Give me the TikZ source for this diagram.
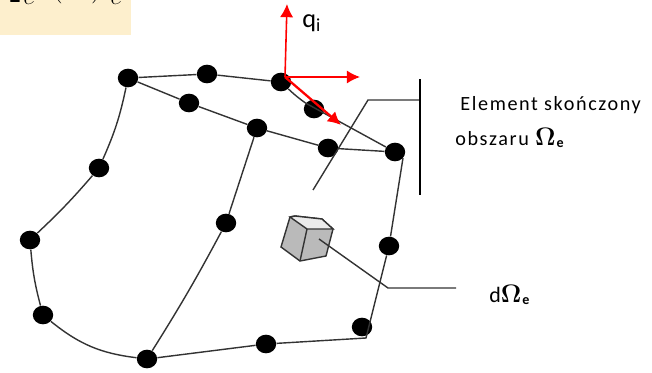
\documentclass[tikz,border=0pt]{standalone}
\usepackage{amsmath, amssymb}
\usepackage{fontspec}
\setmainfont{Carlito}
\newfontfamily\rozstrzelony[LetterSpace=8]{Carlito}
\usetikzlibrary{arrows.meta,shapes.geometric}
\definecolor{tlo}{RGB}{253,239,205}
\newcommand{\omegaE}{{\fontsize{14}{14}\selectfont$\boldsymbol{\Omega}$\kern0.5pt\raisebox{-1.5pt}{\fontsize{8}{8}\bfseries e}}}
\tikzset{
	wezel/.style={ellipse,fill=black,inner sep=0pt,minimum width=11.6pt,minimum height=10.6pt},
	krawedz/.style={line width=0.8pt,black!80},
	wektor/.style={red,line width=0.9pt,-{Latex[length=7.5pt,width=7.5pt]}},
	opis/.style={inner sep=0pt,anchor=base west,font=\fontsize{11.5}{13}\rozstrzelony},
	wzorek/.style={inner sep=0pt,anchor=base,font=\fontsize{14}{16}\selectfont},
}
\begin{document}
\begin{tikzpicture}[x=0.02cm,y=-0.02cm]
	\useasboundingbox (0,0) rectangle (652,372);
	\fill[tlo] (0,0) rectangle (131,35);
	% wzor uciety
	\node[wzorek,font=\fontsize{8}{9}\selectfont] (w1) at (15,3) {$\blacksquare$};
	\node[wzorek] (w2) at (29,5) {$e$};
	\node[wzorek] (w3) at (58,-3) {$($};
	\node[wzorek] (w4) at (96,-3) {$)$};
	\node[wzorek] (w5) at (116,5) {$e$};
	% wezly
	\node[wezel] (A) at (128,78) {};
	\node[wezel] (B) at (207,74) {};
	\node[wezel] (C) at (281,82) {};
	\node[wezel] (D) at (314,109) {};
	\node[wezel] (E) at (395,152) {};
	\node[wezel] (F) at (189,103) {};
	\node[wezel] (G) at (257,128) {};
	\node[wezel] (H) at (328,148) {};
	\node[wezel] (I) at (99,168) {};
	\node[wezel] (J) at (30,240) {};
	\node[wezel] (K) at (43,315) {};
	\node[wezel] (L) at (147,359) {};
	\node[wezel] (M) at (266,344) {};
	\node[wezel] (N) at (362,327) {};
	\node[wezel] (O) at (389,246) {};
	\node[wezel] (P) at (226,223) {};
	\coordinate (R) at (366,338);
	\coordinate (S) at (403,158);
	% krawedzie
	\draw[krawedz] (A) -- (B) -- (C);
	\draw[krawedz] (C) to[bend right=4] (D) -- (E);
	\draw[krawedz] (A) -- (F) -- (G) -- (H) -- (E);
	\draw[krawedz] (S) -- (O) -- (R) -- (M) -- (L);
	\draw[krawedz] (A) to[bend left=6] (I);
	\draw[krawedz] (I) to[bend left=3] (J);
	\draw[krawedz] (J) to[bend right=5] (K);
	\draw[krawedz] (K) to[bend right=16] (L);
	\draw[krawedz] (G) -- (P);
	\draw[krawedz] (P) to[bend left=2] (L);
	% wektory
	\coordinate (q0) at (285,77);
	\coordinate (q1) at (287,4);
	\coordinate (q2) at (360,77);
	\coordinate (q3) at (341,125);
	\draw[wektor] (q0) -- (q1);
	\draw[wektor] (q0) -- (q2);
	\draw[wektor,line width=1.3pt] (q0) -- (q3);
	\node[inner sep=0pt,anchor=base west,font=\fontsize{15}{17}\selectfont] (qi) at (302,28) {q\textsubscript{i}};
	% opis elementu
	\coordinate (s1) at (313,190);
	\coordinate (s2) at (368,100);
	\coordinate (s3) at (420,100);
	\coordinate (s4) at (420,79);
	\coordinate (s5) at (420,195);
	\draw[krawedz] (s1) -- (s2) -- (s3);
	\draw[krawedz,black] (s4) -- (s5);
	\node[opis] (el) at (460,110) {Element skończony};
	\node[opis] (ob) at (455,145) {obszaru \omegaE};
	% kostka
	\coordinate (k1) at (290,217);
	\coordinate (k2) at (281,247);
	\coordinate (k3) at (300,261);
	\coordinate (k4) at (326,256);
	\coordinate (k5) at (333,229);
	\coordinate (k6) at (322,219);
	\coordinate (k7) at (307,229);
	\coordinate (k8) at (295,216);
	\draw[krawedz,fill=black!27] (k1) -- (k2) -- (k3) -- (k4) -- (k5) -- (k6) -- (k8) -- cycle;
	\draw[krawedz,fill=black!8] (k1) -- (k8) -- (k6) -- (k5) -- (k7) -- cycle;
	\draw[krawedz] (k7) -- (k3);
	\coordinate (d1) at (319,239);
	\coordinate (d2) at (388,288);
	\coordinate (d3) at (456,288);
	\draw[krawedz] (d1) -- (d2) -- (d3);
	\node[opis,font=\fontsize{12.5}{14}\selectfont] (dO) at (489,302) {d\omegaE};
\end{tikzpicture}
\end{document}
